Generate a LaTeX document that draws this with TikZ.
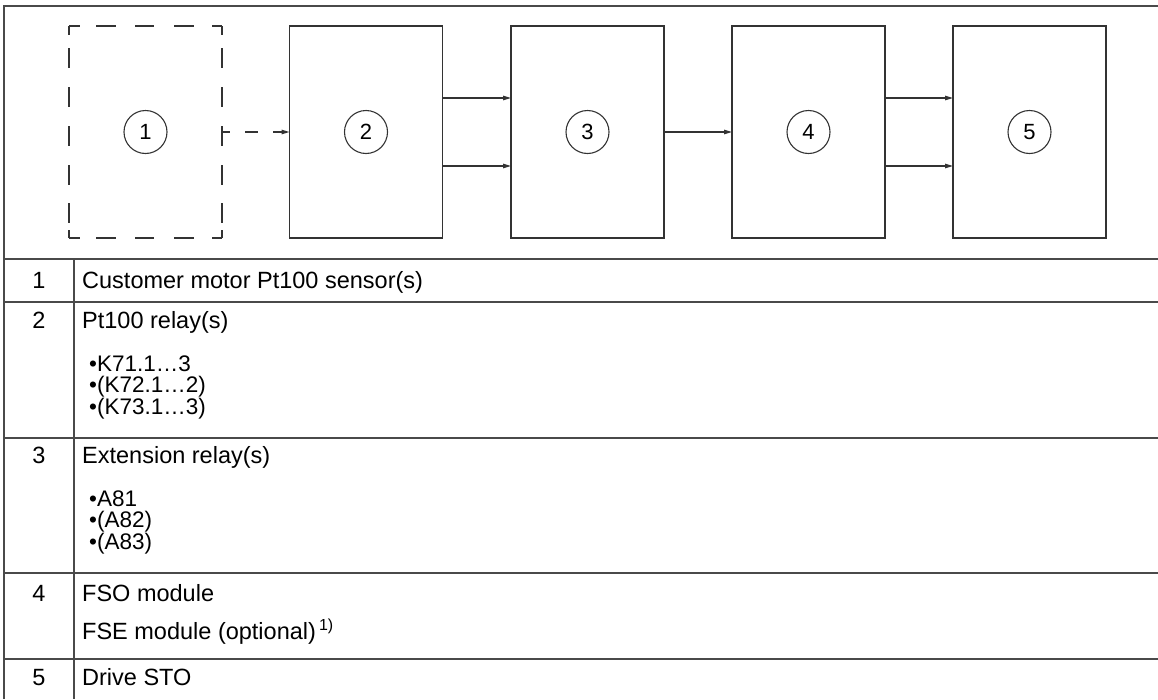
\documentclass[tikz,border=0pt]{standalone}
\usepackage{fontspec}
\setmainfont{Liberation Sans}
\usetikzlibrary{arrows.meta,calc}
\definecolor{tabgray}{HTML}{4A4A4A}
\definecolor{linegray}{HTML}{333333}
\begin{document}
\begin{tikzpicture}[x=1pt,y=-1pt,
  tline/.style={line width=1.8pt,draw=tabgray},
  blk/.style={draw=linegray,line width=1.1pt,minimum width=153pt,minimum height=212pt,inner sep=0pt,outer sep=0pt},
  ghost/.style={minimum width=153pt,minimum height=212pt,inner sep=0pt,outer sep=0pt},
  dside/.style={draw=linegray,line width=1.1pt},
  num/.style={circle,draw=linegray,line width=1.1pt,minimum size=43pt,inner sep=0pt,font=\fontsize{22}{26}\selectfont},
  arr/.style={draw=linegray,line width=1.1pt,-{Triangle[length=8pt,width=4.5pt]}},
  txt/.style={anchor=base west,inner sep=0pt,font=\fontsize{23.5}{27}\selectfont},
  idx/.style={anchor=base,inner sep=0pt,font=\fontsize{23.5}{27}\selectfont},
  bul/.style={anchor=base west,inner sep=0pt,font=\fontsize{22.5}{26}\selectfont},
]
\useasboundingbox (0,0) rectangle (1158,699);
\fill[white] (0,0) rectangle (1158,699);

% frame and table
\draw[tline] (4,699) -- (4,6) -- (1158,6);
\foreach \yy in {259,302,438,573,659} \draw[tline] (4,\yy) -- (1158,\yy);
\draw[tline] (74,259) -- (74,699);

% blocks
\node[ghost] (b1) at (145.5,132) {};
\node[blk] (b2) at (366,132) {};
\node[blk] (b3) at (587.5,132) {};
\node[blk] (b4) at (808.5,132) {};
\node[blk] (b5) at (1029.5,132) {};

% dashed block 1
\draw[dside,dash pattern=on 11pt off 16pt on 20pt off 19pt on 19pt off 20pt on 20pt off 18pt on 20pt]
  (b1.north west) -- (b1.north east);
\draw[dside,dash pattern=on 11pt off 16pt on 20pt off 19pt on 19pt off 20pt on 20pt off 18pt on 20pt]
  (b1.south west) -- (b1.south east);
\draw[dside,dash pattern=on 9pt off 13pt on 20pt off 19pt on 20pt off 19pt on 20pt off 19pt on 20pt off 18pt on 20pt off 7pt on 20pt]
  (b1.north west) -- (b1.south west);
\draw[dside,dash pattern=on 9pt off 13pt on 20pt off 19pt on 20pt off 19pt on 20pt off 19pt on 20pt off 18pt on 20pt off 7pt on 20pt]
  (b1.north east) -- (b1.south east);

% circled numbers
\node[num] (c1) at (b1.center) {1};
\node[num] (c2) at (b2.center) {2};
\node[num] (c3) at (b3.center) {3};
\node[num] (c4) at (b4.center) {4};
\node[num] (c5) at (b5.center) {5};

% connectors
\draw[arr,dash pattern=on 8pt off 15pt on 13pt off 15pt on 40pt] (b1.east) -- (b2.west);
\draw[arr] ([yshift=34pt]b2.east) -- ([yshift=34pt]b3.west);
\draw[arr] ([yshift=-34pt]b2.east) -- ([yshift=-34pt]b3.west);
\draw[arr] (b3.east) -- (b4.west);
\draw[arr] ([yshift=34pt]b4.east) -- ([yshift=34pt]b5.west);
\draw[arr] ([yshift=-34pt]b4.east) -- ([yshift=-34pt]b5.west);

% legend
\node[idx] (n1) at (39,288.5) {1};
\node[txt] (t1) at (82,288.5) {Customer motor Pt100 sensor(s)};

\node[idx] (n2) at (39,328) {2};
\node[txt] (t2) at (82,328) {Pt100 relay(s)};
\node[bul] (t2a) at (89,371) {\textbullet K71.1…3};
\node[bul] (t2b) at (89,392.5) {\textbullet(K72.1…2)};
\node[bul] (t2c) at (89,414) {\textbullet(K73.1…3)};

\node[idx] (n3) at (39,463) {3};
\node[txt] (t3) at (82,463) {Extension relay(s)};
\node[bul] (t3a) at (89,506) {\textbullet A81};
\node[bul] (t3b) at (89,527.5) {\textbullet(A82)};
\node[bul] (t3c) at (89,549) {\textbullet(A83)};

\node[idx] (n4) at (39,601) {4};
\node[txt] (t4) at (82,601) {FSO module};
\node[txt] (t4b) at (82,639) {FSE module (optional)\hspace{3pt}\raisebox{9pt}{\fontsize{16}{18}\selectfont 1)}};

\node[idx] (n5) at (39,685) {5};
\node[txt] (t5) at (82,685) {Drive STO};
\end{tikzpicture}
\end{document}
